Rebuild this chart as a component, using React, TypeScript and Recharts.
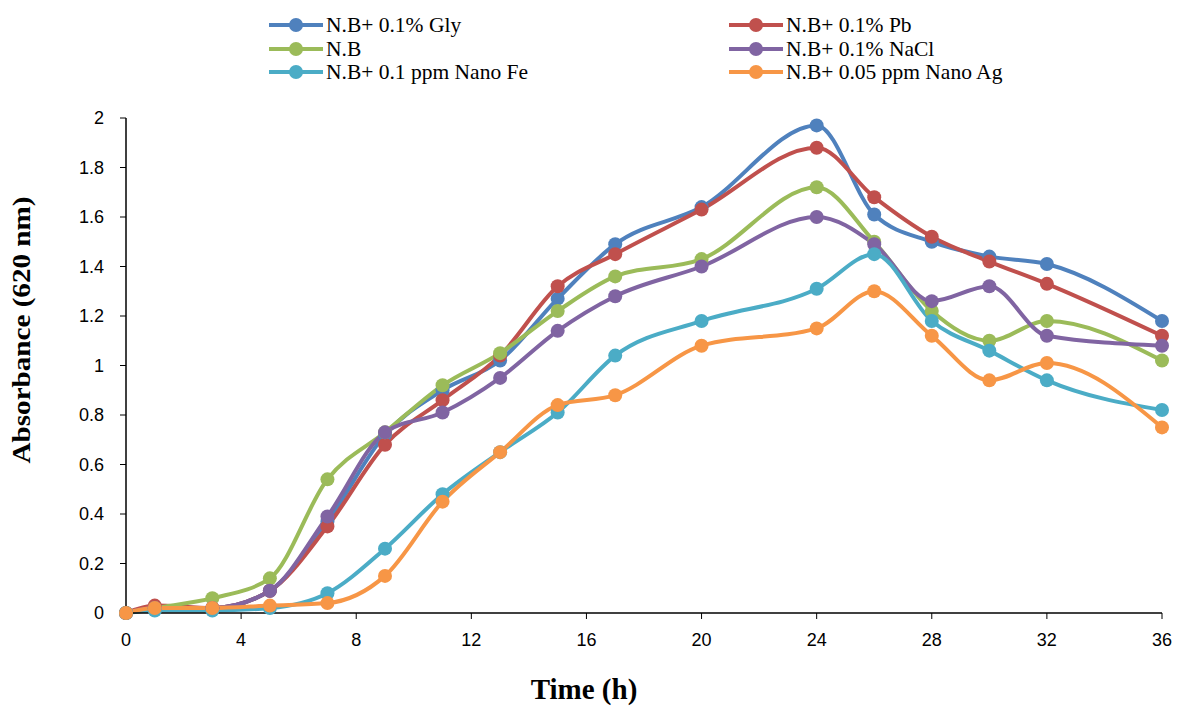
import React from 'react';
import { LineChart, Line, XAxis, YAxis } from 'recharts';

const hours = [0, 1, 3, 5, 7, 9, 11, 13, 15, 17, 20, 24, 26, 28, 30, 32, 36];

const gly = [0, 0.02, 0.02, 0.09, 0.37, 0.72, 0.9, 1.02, 1.27, 1.49, 1.64, 1.97, 1.61, 1.5, 1.44, 1.41, 1.18];
const pb = [0, 0.03, 0.02, 0.09, 0.35, 0.68, 0.86, 1.04, 1.32, 1.45, 1.63, 1.88, 1.68, 1.52, 1.42, 1.33, 1.12];
const nb = [0, 0.02, 0.06, 0.14, 0.54, 0.73, 0.92, 1.05, 1.22, 1.36, 1.43, 1.72, 1.5, 1.22, 1.1, 1.18, 1.02];
const nacl = [0, 0.02, 0.02, 0.09, 0.39, 0.73, 0.81, 0.95, 1.14, 1.28, 1.4, 1.6, 1.49, 1.26, 1.32, 1.12, 1.08];
const nanoFe = [0, 0.01, 0.01, 0.02, 0.08, 0.26, 0.48, 0.65, 0.81, 1.04, 1.18, 1.31, 1.45, 1.18, 1.06, 0.94, 0.82];
const nanoAg = [0, 0.02, 0.02, 0.03, 0.04, 0.15, 0.45, 0.65, 0.84, 0.88, 1.08, 1.15, 1.3, 1.12, 0.94, 1.01, 0.75];

const xTicks = [0, 4, 8, 12, 16, 20, 24, 28, 32, 36];
const yTicks = [0, 0.2, 0.4, 0.6, 0.8, 1, 1.2, 1.4, 1.6, 1.8, 2];

const series = [
  { key: 'gly', name: 'N.B+ 0.1% Gly', color: '#4F81BD', values: gly },
  { key: 'pb', name: 'N.B+ 0.1% Pb', color: '#C0504D', values: pb },
  { key: 'nb', name: 'N.B', color: '#9BBB59', values: nb },
  { key: 'nacl', name: 'N.B+ 0.1% NaCl', color: '#8064A2', values: nacl },
  { key: 'fe', name: 'N.B+ 0.1 ppm Nano Fe', color: '#4BACC6', values: nanoFe },
  { key: 'ag', name: 'N.B+ 0.05 ppm Nano Ag', color: '#F79646', values: nanoAg },
];

const data = hours.map((h, i) => {
  const row: Record<string, number> = { h };
  series.forEach((s) => { row[s.key] = s.values[i]; });
  return row;
});

const serif = '"Liberation Serif", "Times New Roman", serif';
const sans = '"Liberation Sans", Arial, sans-serif';
const tickStyle = { fontFamily: sans, fontSize: 18, fill: '#000' };

function LegendItem({ name, color, x, y }: { name: string; color: string; x: number; y: number }) {
  return (
    <div style={{ position: 'absolute', left: x, top: y - 11, height: 22, display: 'flex', alignItems: 'center' }}>
      <svg width={56} height={22}>
        <line x1={1} y1={11} x2={55} y2={11} stroke={color} strokeWidth={4} />
        <circle cx={28} cy={11} r={7} fill={color} />
      </svg>
      <span
        style={{
          fontFamily: serif, fontSize: 21.5, lineHeight: '22px', marginLeft: 2, color: '#000', whiteSpace: 'nowrap',
        }}
      >
        {name}
      </span>
    </div>
  );
}

export default function App() {
  return (
    <div style={{ position: 'absolute', left: 0, top: 0, width: 1177, height: 706, background: '#fff' }}>
      <LineChart width={1177} height={706} data={data} margin={{ top: 118, right: 15, bottom: 63, left: 66 }}>
        <XAxis
          dataKey="h"
          type="number"
          domain={[0, 36]}
          ticks={xTicks}
          tick={tickStyle}
          tickSize={6}
          tickMargin={14}
          height={30}
          stroke="#000"
          axisLine={{ stroke: '#000', strokeWidth: 1.5 }}
        />
        <YAxis
          type="number"
          domain={[0, 2]}
          ticks={yTicks}
          tick={tickStyle}
          tickFormatter={(v: number) => String(v)}
          tickSize={6}
          tickMargin={16}
          width={60}
          stroke="#000"
          axisLine={{ stroke: '#000', strokeWidth: 1.5 }}
        />
        {series.map((s) => (
          <Line
            key={s.key}
            dataKey={s.key}
            name={s.name}
            type="monotone"
            stroke={s.color}
            strokeWidth={4}
            dot={{ r: 7, fill: s.color, stroke: s.color, strokeWidth: 0 }}
            isAnimationActive={false}
          />
        ))}
      </LineChart>
      {series.map((s, i) => (
        <LegendItem
          key={s.key}
          name={s.name}
          color={s.color}
          x={i % 2 === 0 ? 268 : 728}
          y={25 + Math.floor(i / 2) * 23.5}
        />
      ))}
      <div
        style={{
          position: 'absolute', left: 22, top: 330, transform: 'translate(-50%, -50%) rotate(-90deg) scaleX(1.12)',
          fontFamily: serif, fontSize: 26, fontWeight: 'bold', whiteSpace: 'nowrap',
        }}
      >
        Absorbance (620 nm)
      </div>
      <div
        style={{
          position: 'absolute', left: 584, top: 689, transform: 'translate(-50%, -50%)', lineHeight: '30px',
          fontFamily: serif, fontSize: 29, fontWeight: 'bold', whiteSpace: 'nowrap',
        }}
      >
        Time (h)
      </div>
    </div>
  );
}
